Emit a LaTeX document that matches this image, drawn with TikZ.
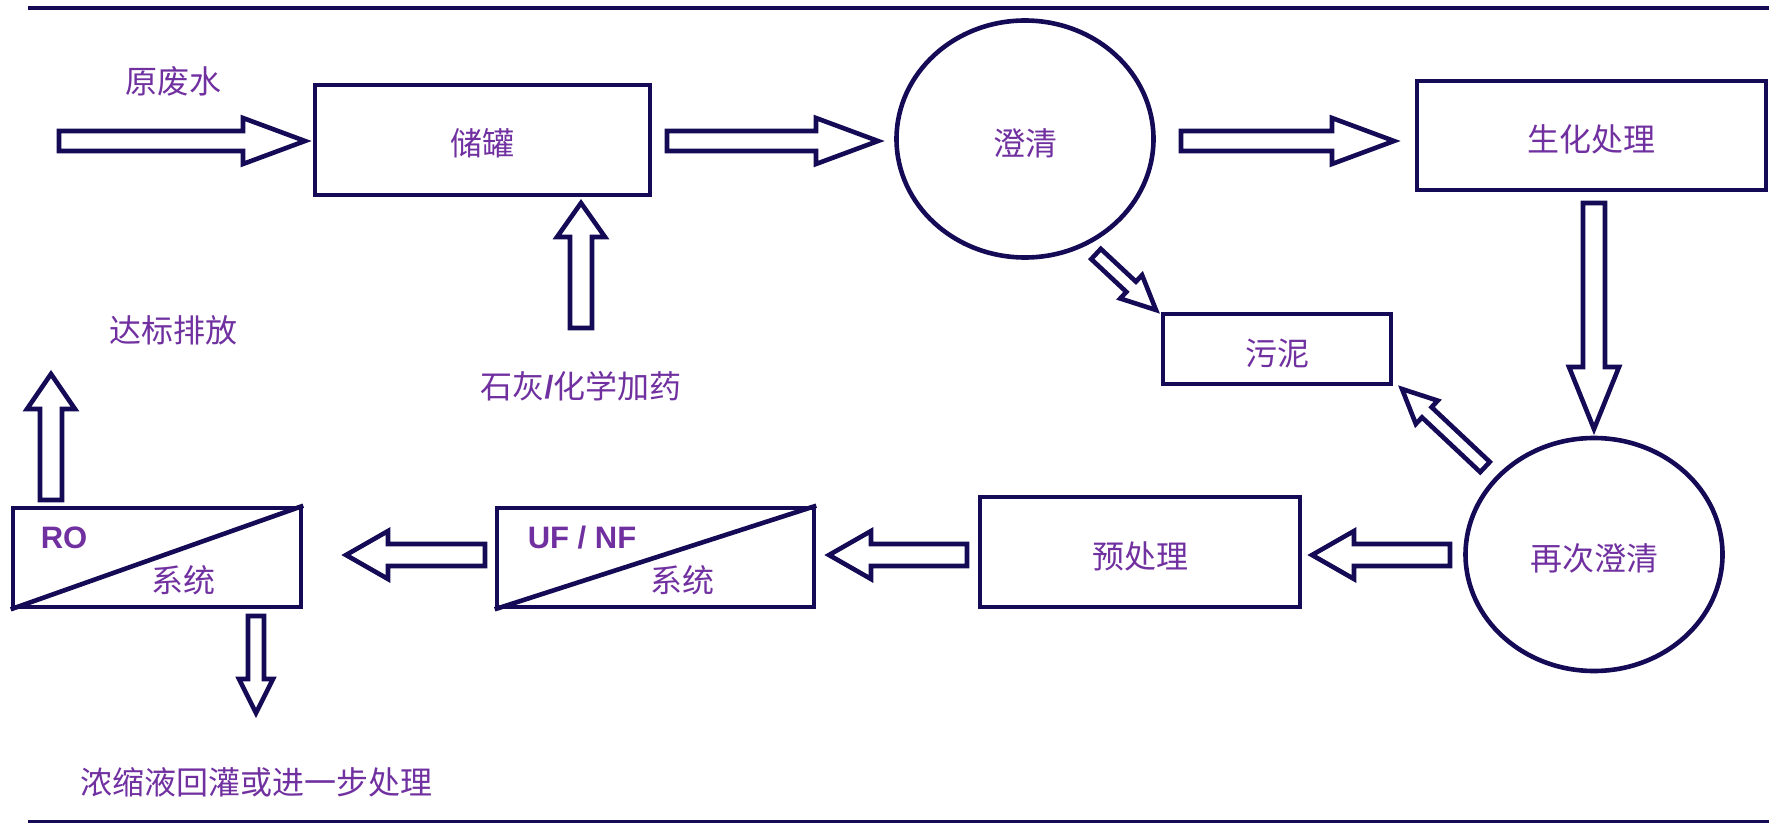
\documentclass[tikz,border=0pt]{standalone}
\usepackage{fontspec}
\newfontfamily\cjk{Noto Sans CJK SC}
\newfontfamily\lat{Liberation Sans}
\usetikzlibrary{calc,shapes.geometric}
\definecolor{ln}{HTML}{140A55}
\definecolor{tx}{HTML}{7030A0}
\tikzset{
  arrowline/.style={draw=ln, fill=white, line width=4.6pt, line join=miter},
  box/.style={draw=ln, line width=4.6pt, rectangle, inner sep=0pt, text=tx, text height=32pt, text depth=0pt, font=\cjk\fontsize{32}{36}\selectfont},
  oval/.style={draw=ln, line width=4.6pt, ellipse, inner sep=0pt, text=tx, text height=32pt, text depth=0pt, font=\cjk\fontsize{32}{36}\selectfont},
  lab/.style={text=tx, inner sep=0pt, font=\cjk\fontsize{32}{36}\selectfont},
  latlab/.style={text=tx, inner sep=0pt, font=\lat\bfseries\fontsize{31}{34}\selectfont},
  rule/.style={draw=ln, line width=4.6pt}
}
% from, to, shaft half width, head half width, head length
\newcommand\barrow[5]{%
  \coordinate (ba-h) at ($(#2)!#5!(#1)$);
  \draw[arrowline] ($(#1)!#3!90:(#2)$) -- ($(ba-h)!#3!-90:(#1)$) -- ($(ba-h)!#4!-90:(#1)$) -- (#2)
    -- ($(ba-h)!#4!90:(#1)$) -- ($(ba-h)!#3!90:(#1)$) -- ($(#1)!#3!-90:(#2)$) -- cycle;
}
\begin{document}
\begin{tikzpicture}[x=1pt,y=-1pt]
\useasboundingbox (0,0) rectangle (1769,824);
\coordinate (tl) at (28,8); \coordinate (tr) at (1769,8);
\coordinate (bl) at (28,821); \coordinate (br) at (1769,821);
\draw[rule] (tl) -- (tr);
\draw[rule, line width=3pt] (bl) -- (br);

% nodes
\node[box, minimum width=335pt, minimum height=110pt] (tank) at (482.5,140) {储罐};
\node[oval, minimum width=257pt, minimum height=237pt] (clar) at (1025,139) {澄清};
\node[box, minimum width=349pt, minimum height=109pt] (bio) at (1591.5,135.5) {生化处理};
\node[box, minimum width=228pt, minimum height=70pt] (sludge) at (1277,349) {污泥};
\node[oval, minimum width=257pt, minimum height=233pt] (reclar) at (1594,554.5) {再次澄清};
\node[box, minimum width=320pt, minimum height=110pt] (pre) at (1140,552) {预处理};
\node[box, minimum width=317pt, minimum height=99pt] (uf) at (655.5,557.5) {};
\node[box, minimum width=288pt, minimum height=99pt] (ro) at (157,557.5) {};
\draw[draw=ln, line width=4.6pt] (uf.south west) -- (uf.north east);
\draw[draw=ln, line width=4.6pt] (ro.south west) -- (ro.north east);
\node[latlab] (rot) at (64,538) {RO};
\node[lab] (ros) at (183,580) {系统};
\node[latlab] (uft) at (582,538) {UF / NF};
\node[lab] (ufs) at (682,580) {系统};

% free labels
\node[lab] (raw) at (173,81) {原废水};
\node[lab] (lime) at (581,386) {石灰{\lat\bfseries /}化学加药};
\node[lab] (disch) at (173,330) {达标排放};
\node[lab] (conc) at (256,782) {浓缩液回灌或进一步处理};

% arrow end points
\coordinate (a1s) at (59,141);   \coordinate (a1e) at (305,141);
\coordinate (a2s) at (667,141);  \coordinate (a2e) at (878,141);
\coordinate (a3s) at (1181,141); \coordinate (a3e) at (1394,141);
\coordinate (a4s) at (1594,203); \coordinate (a4e) at (1594,429);
\coordinate (a5s) at (581,328);  \coordinate (a5e) at (581,203);
\coordinate (a6s) at (1096,254); \coordinate (a6e) at (1156,310);
\coordinate (a7s) at (1485,467); \coordinate (a7e) at (1402,389);
\coordinate (a8s) at (1450,555); \coordinate (a8e) at (1312,555);
\coordinate (a9s) at (967,555);  \coordinate (a9e) at (829,555);
\coordinate (a10s) at (485,555); \coordinate (a10e) at (346,555);
\coordinate (a11s) at (51,500);  \coordinate (a11e) at (51,374);
\coordinate (a12s) at (256,616); \coordinate (a12e) at (256,713);

\barrow{a1s}{a1e}{10pt}{23pt}{62pt}
\barrow{a2s}{a2e}{10pt}{23pt}{62pt}
\barrow{a3s}{a3e}{10pt}{23pt}{62pt}
\barrow{a4s}{a4e}{11pt}{25pt}{62pt}
\barrow{a5s}{a5e}{11pt}{24pt}{34pt}
\barrow{a6s}{a6e}{7pt}{16pt}{34pt}
\barrow{a7s}{a7e}{7pt}{16pt}{34pt}
\barrow{a8s}{a8e}{11pt}{24pt}{42pt}
\barrow{a9s}{a9e}{11pt}{24pt}{42pt}
\barrow{a10s}{a10e}{11pt}{24pt}{42pt}
\barrow{a11s}{a11e}{11pt}{24pt}{35pt}
\barrow{a12s}{a12e}{8pt}{17pt}{34pt}
\end{tikzpicture}
\end{document}
